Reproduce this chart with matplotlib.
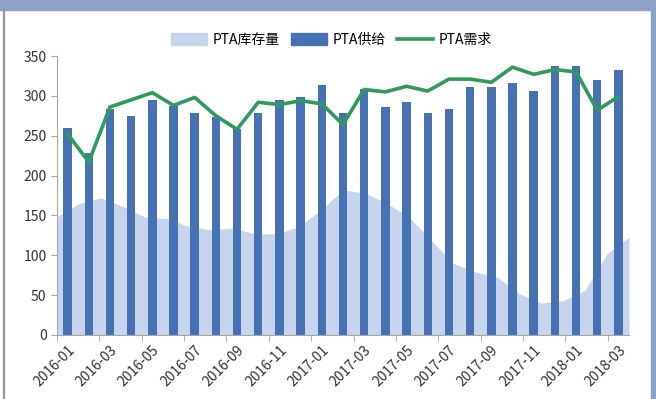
import numpy as np
import matplotlib
matplotlib.use("Agg")
import matplotlib.pyplot as plt
from matplotlib.patches import Rectangle, Patch
from matplotlib.lines import Line2D

plt.rcParams['font.family'] = ['Noto Sans CJK SC', 'DejaVu Sans']

# --- data (monthly, 2016-01 .. 2018-03) ---
months = ['2016-01', '2016-02', '2016-03', '2016-04', '2016-05', '2016-06',
          '2016-07', '2016-08', '2016-09', '2016-10', '2016-11', '2016-12',
          '2017-01', '2017-02', '2017-03', '2017-04', '2017-05', '2017-06',
          '2017-07', '2017-08', '2017-09', '2017-10', '2017-11', '2017-12',
          '2018-01', '2018-02', '2018-03']
supply = [260, 228, 283, 275, 295, 287, 279, 274, 259, 279, 295, 299,
          313, 279, 308, 286, 292, 279, 283, 311, 311, 316, 306, 337,
          337, 320, 333]
demand = [252, 217, 286, 295, 304, 288, 298, 275, 258, 292, 289, 294,
          290, 264, 308, 305, 312, 306, 321, 321, 317, 336, 327, 333,
          330, 282, 299]
inventory = [148, 165, 172, 161, 148, 146, 136, 132, 134, 127, 127, 136,
             157, 182, 178, 165, 148, 119, 90, 79, 73, 52, 40, 43,
             56, 102, 123]

bar_color = '#4672b3'
area_color = '#c6d4ee'
line_color = '#2e9b5c'
axis_color = '#a6a6a6'

fig = plt.figure(figsize=(6.56, 3.99), dpi=100)
ax = fig.add_axes([57 / 656, 1 - 335 / 399, 572 / 656, 279 / 399])

# inventory area spans edge to edge on its own category axis
ax_area = ax.twiny()
idx = np.arange(len(months))
ax_area.fill_between(idx, inventory, color=area_color, linewidth=0)
ax_area.set_xlim(0, len(months) - 1)
ax_area.set_ylim(0, 350)
ax_area.axis('off')

# bars and line drawn above the area
ax.set_zorder(ax_area.get_zorder() + 1)
ax.patch.set_visible(False)
ax.bar(idx, supply, width=0.4, color=bar_color, zorder=2)
ax.plot(idx, demand, color=line_color, linewidth=2.6, zorder=3,
        solid_joinstyle='round')

ax.set_xlim(-0.5, len(months) - 0.5)
ax.set_ylim(0, 350)
ax.set_yticks(range(0, 351, 50))
ax.set_xticks(idx[::2])
ax.set_xticklabels(months[::2], rotation=45, ha='right', rotation_mode='anchor')
ax.set_xticks(np.arange(-0.5, len(months), 2), minor=True)
ax.tick_params(axis='x', which='major', length=0, pad=6, labelsize=10, colors='#333333')
ax.tick_params(axis='x', which='minor', length=4, color=axis_color)
ax.tick_params(axis='y', length=4, color=axis_color, labelsize=10, colors='#333333')
for side in ['top', 'right']:
    ax.spines[side].set_visible(False)
for side in ['left', 'bottom']:
    ax.spines[side].set_color(axis_color)

handles = [Patch(color=area_color), Patch(color=bar_color),
           Line2D([0], [0], color=line_color, linewidth=2.6)]
fig.legend(handles, ['PTA库存量', 'PTA供给', 'PTA需求'], loc='center',
           bbox_to_anchor=(0.505, 1 - 40 / 399), ncol=3, frameon=False,
           fontsize=10, handlelength=2.6, handleheight=0.9, columnspacing=0.8,
           handletextpad=0.4)

# screenshot frame
fig.patches.append(Rectangle((0, 1 - 10 / 399), 1, 10 / 399, transform=fig.transFigure,
                             color='#8ea1c9', zorder=0))
fig.patches.append(Rectangle((651 / 656, 0), 5 / 656, 1, transform=fig.transFigure,
                             color='#8ea1c9', zorder=0))
fig.patches.append(Rectangle((3 / 656, 0), 1.2 / 656, 1 - 10 / 399, transform=fig.transFigure,
                             color='#9a9a9a', zorder=0))

fig.savefig('out.png', dpi=100)
